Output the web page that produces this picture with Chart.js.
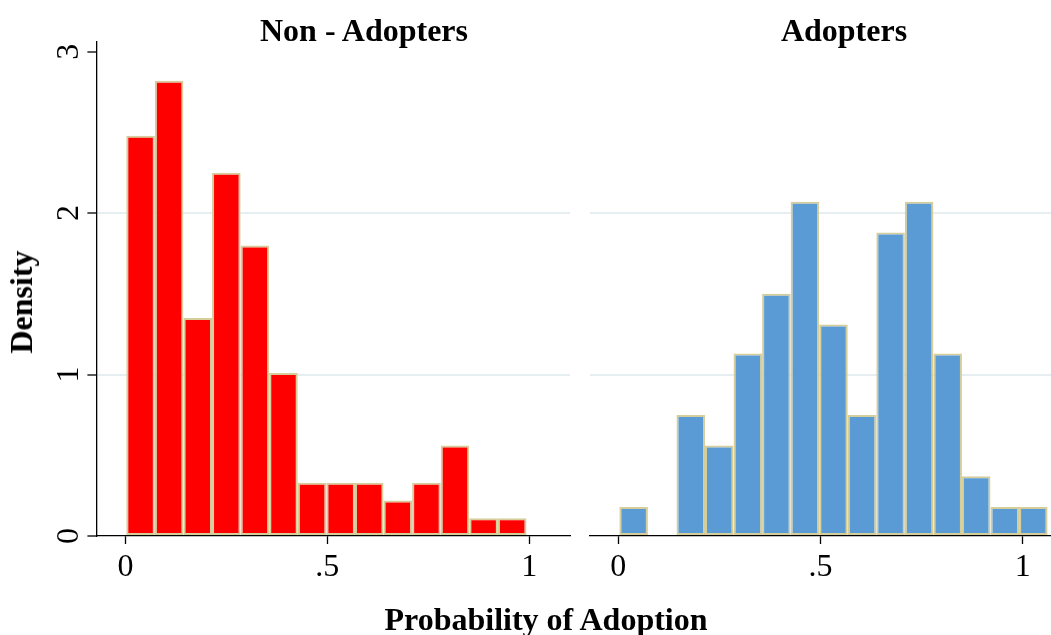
<!DOCTYPE html>
<html><head><meta charset="utf-8">
<script src="https://cdn.jsdelivr.net/npm/chart.js@4"></script>
<style>
html,body{margin:0;padding:0;background:#fff;overflow:hidden;width:1051px;height:635px;}
#wrap{position:relative;width:1051px;height:635px;overflow:hidden;}
canvas{position:absolute;top:0;}
.t{position:absolute;font-family:"Liberation Serif","Times New Roman",serif;font-weight:bold;font-size:32px;color:#000;white-space:nowrap;line-height:32px;}
</style></head><body>
<div id="wrap">
<canvas id="c1" width="580" height="635" style="left:0"></canvas>
<canvas id="c2" width="471" height="635" style="left:580px"></canvas>
<div class="t" style="left:364px;top:14px;transform:translateX(-50%)">Non - Adopters</div>
<div class="t" style="left:844px;top:14px;transform:translateX(-50%)">Adopters</div>
<div class="t" style="left:546px;top:603px;transform:translateX(-50%)">Probability of Adoption</div>
<div class="t" style="left:21px;top:302px;transform:translate(-50%,-50%) rotate(-90deg)">Density</div>
</div>
<script>
// ---- data ----
const panelTitles = ['Non - Adopters', 'Adopters'];
const binsNon = [0.0374, 0.1082, 0.1790, 0.2498, 0.3206, 0.3914, 0.4622, 0.5330, 0.6038, 0.6746, 0.7454, 0.8162, 0.8870, 0.9578];
const densNon = [2.48, 2.82, 1.35, 2.25, 1.80, 1.01, 0.33, 0.33, 0.33, 0.22, 0.33, 0.56, 0.11, 0.11];
const binsAdo = [0.0379, 0.1085, 0.1791, 0.2497, 0.3203, 0.3909, 0.4615, 0.5321, 0.6027, 0.6733, 0.7439, 0.8145, 0.8851, 0.9557, 1.0263];
const densAdo = [0.18, 0, 0.75, 0.56, 1.13, 1.50, 2.07, 1.31, 0.75, 1.88, 2.07, 1.13, 0.37, 0.18, 0.18];
const xTicks = [0, 0.5, 1];
const xTickLabels = ['0', '.5', '1'];
const yTicks = [0, 1, 2, 3];
const yTickLabels = ['0', '1', '2', '3'];
const gridValues = [1, 2];

const FONT = '"Liberation Serif","Times New Roman",serif';
const GRID = '#e6eef2';
const EDGE = '#d5ce9b';

function makeChart(id, bins, dens, fill, xmin, xmax, showY) {
  const pts = bins.map((b, i) => ({x: b, y: dens[i]}));
  return new Chart(document.getElementById(id), {
    type: 'bar',
    data: { datasets: [{
      data: pts,
      backgroundColor: fill,
      borderColor: EDGE,
      borderWidth: ctx => (ctx.raw && ctx.raw.y > 0) ? 2 : 0,
      borderSkipped: false,
      barPercentage: 1,
      categoryPercentage: 1,
      inflateAmount: 0
    }]},
    options: {
      responsive: false,
      animation: false,
      devicePixelRatio: 1,
      layout: { padding: { top: 42, left: showY ? 0 : 10, right: showY ? 10 : 0, bottom: 0 } },
      plugins: { legend: {display: false}, tooltip: {enabled: false}, title: {display: false} },
      scales: {
        x: {
          type: 'linear', min: xmin, max: xmax, offset: false,
          afterBuildTicks: s => { s.ticks = xTicks.map(v => ({value: v})); },
          ticks: {
            autoSkip: false, maxRotation: 0, minRotation: 0, padding: 4, color: '#000',
            font: {family: FONT, size: 32},
            callback: v => xTickLabels[xTicks.indexOf(v)]
          },
          grid: { offset: false, drawOnChartArea: false, drawTicks: true, tickLength: 8, tickColor: '#000', tickWidth: 1.3 },
          border: { display: true, color: '#000', width: 1.3 },
          afterFit: s => { s.height = 99; }
        },
        y: {
          type: 'linear', min: 0, max: 3.06,
          afterBuildTicks: s => { s.ticks = yTicks.map(v => ({value: v})); },
          ticks: {
            display: showY, minRotation: 90, maxRotation: 90, crossAlign: 'center', padding: 10, color: '#000',
            font: {family: FONT, size: 32},
            callback: v => yTickLabels[yTicks.indexOf(v)]
          },
          grid: {
            offset: false,
            color: ctx => (ctx.tick && gridValues.includes(ctx.tick.value)) ? GRID : 'rgba(0,0,0,0)',
            lineWidth: 2, drawTicks: showY, tickLength: 9, tickColor: '#000', tickWidth: 1.3
          },
          border: { display: showY, color: '#000', width: 1.3 },
          afterFit: s => { s.width = showY ? 96.4 : 0; }
        }
      }
    }
  });
}
makeChart('c1', binsNon, densNon, '#ff0000', -0.072, 1.101, true);
makeChart('c2', binsAdo, densAdo, '#5b9bd5', -0.07, 1.07, false);
</script>
</body></html>
